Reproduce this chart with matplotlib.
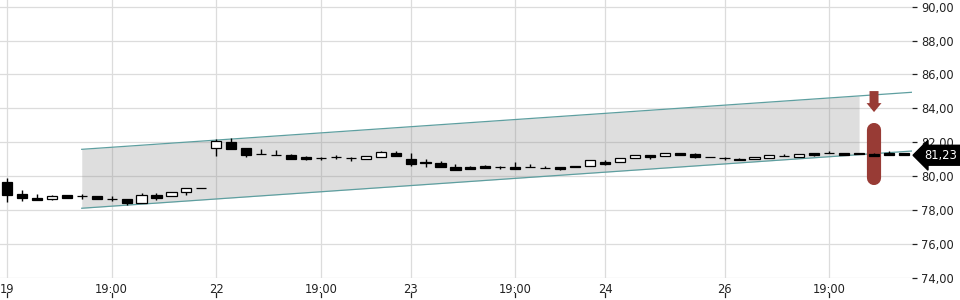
import matplotlib
matplotlib.use("Agg")
import matplotlib.pyplot as plt
import matplotlib.transforms as mtransforms

# candle OHLC (one candle per slot, index 0..60)
opens = [79.63, 78.94, 78.71, 78.67, 78.87, 78.80, 78.83, 78.65, 78.63, 78.39,
         78.90, 78.81, 79.04, 79.30, 81.64, 82.01, 81.64, 81.29, 81.23, 81.25,
         81.15, 81.05, 81.13, 81.05, 81.03, 81.15, 81.36, 80.99, 80.82, 80.77,
         80.54, 80.52, 80.60, 80.52, 80.52, 80.52, 80.46, 80.52, 80.60, 80.60,
         80.83, 80.81, 81.05, 81.23, 81.17, 81.36, 81.30, 81.13, 81.05, 81.01,
         80.99, 81.05, 81.17, 81.11, 81.35, 81.35, 81.36, 81.36, 81.30, 81.36,
         81.36]
closes = [78.90, 78.69, 78.61, 78.81, 78.72, 78.81, 78.67, 78.65, 78.39, 78.87,
          78.72, 79.06, 79.28, 79.30, 82.05, 81.60, 81.23, 81.29, 81.23, 81.03,
          81.03, 81.05, 81.13, 81.05, 81.17, 81.40, 81.19, 80.73, 80.77, 80.56,
          80.38, 80.44, 80.50, 80.52, 80.44, 80.52, 80.46, 80.44, 80.52, 80.93,
          80.73, 81.05, 81.25, 81.15, 81.36, 81.26, 81.11, 81.13, 81.05, 80.93,
          81.11, 81.23, 81.17, 81.29, 81.26, 81.35, 81.26, 81.29, 81.20, 81.26,
          81.23]
highs = [79.87, 79.16, 78.94, 78.89, 78.87, 78.93, 78.85, 78.81, 78.63, 79.00,
         78.98, 79.06, 79.28, 79.30, 82.19, 82.25, 81.64, 81.58, 81.52, 81.30,
         81.20, 81.15, 81.25, 81.15, 81.17, 81.46, 81.46, 81.35, 80.99, 80.87,
         80.71, 80.58, 80.67, 80.61, 80.82, 80.71, 80.60, 80.52, 80.60, 80.93,
         80.95, 81.05, 81.25, 81.23, 81.36, 81.36, 81.35, 81.13, 81.15, 81.05,
         81.11, 81.23, 81.31, 81.29, 81.35, 81.48, 81.36, 81.36, 81.36, 81.48,
         81.36]
lows = [78.49, 78.55, 78.61, 78.61, 78.69, 78.65, 78.63, 78.51, 78.31, 78.39,
        78.61, 78.81, 78.90, 79.30, 81.20, 81.60, 81.15, 81.29, 81.23, 81.03,
        80.97, 80.95, 81.03, 80.91, 81.03, 81.15, 81.19, 80.61, 80.56, 80.56,
        80.38, 80.44, 80.50, 80.42, 80.40, 80.52, 80.46, 80.38, 80.52, 80.60,
        80.64, 80.81, 81.05, 81.03, 81.17, 81.26, 81.05, 81.13, 80.93, 80.93,
        80.99, 81.05, 81.17, 81.11, 81.20, 81.35, 81.26, 81.29, 81.20, 81.26,
        81.23]

tick_pos = [0, 7, 14, 21, 27, 34, 40, 48, 55]
tick_labels = ["19", "19:00", "22", "19:00", "23", "19:00", "24", "26", "19:00"]

# trend channel: start/end index and upper/lower levels
chan_x = [5, 60.54]
chan_upper = [81.58, 84.95]
chan_lower = [78.10, 81.48]
chan_fill_end = 57

# signal marker
sig_idx = 58
sig_range = [79.89, 82.72]
sig_arrow = [85.02, 83.78]
last_price = 81.23

fig = plt.figure(figsize=(9.6, 3.0), dpi=100)
ax = fig.add_axes([0, 22 / 300, 912 / 960, 278 / 300])

ax.set_xlim(-0.468, 60.54)
ax.set_ylim(73.98, 90.40)

# channel
slope_u = (chan_upper[1] - chan_upper[0]) / (chan_x[1] - chan_x[0])
slope_l = (chan_lower[1] - chan_lower[0]) / (chan_x[1] - chan_x[0])
fx = [chan_x[0], chan_fill_end]
fu = [chan_upper[0], chan_upper[0] + slope_u * (chan_fill_end - chan_x[0])]
fl = [chan_lower[0], chan_lower[0] + slope_l * (chan_fill_end - chan_x[0])]
ax.fill_between(fx, fl, fu, color="#808080", alpha=0.26, lw=0, zorder=2)
ax.plot(chan_x, chan_upper, color="#5e9fa0", lw=0.9, zorder=3)
ax.plot(chan_x, chan_lower, color="#5e9fa0", lw=0.9, zorder=3)

# signal marker (behind candles)
ax.plot([sig_idx, sig_idx], sig_range, color="#983b35", lw=10.2,
        solid_capstyle="round", zorder=4)
ax.arrow(sig_idx, sig_arrow[0], 0, sig_arrow[1] - sig_arrow[0], width=0.6,
         head_width=1.0, head_length=0.53, length_includes_head=True,
         color="#983b35", lw=0, zorder=4)

# candles
xs = list(range(len(opens)))
ax.vlines(xs, lows, highs, color="black", lw=1.0, zorder=5)
bottoms = [min(o, c) for o, c in zip(opens, closes)]
heights = [abs(c - o) for o, c in zip(opens, closes)]
faces = ["white" if c > o else "black" for o, c in zip(opens, closes)]
ax.bar(xs, heights, bottom=bottoms, width=0.68, color=faces,
       edgecolor="black", linewidth=0.9, zorder=6)

# axes styling
for s in ax.spines.values():
    s.set_visible(False)
ax.yaxis.tick_right()
ax.set_yticks([74, 76, 78, 80, 82, 84, 86, 88, 90])
ax.set_yticklabels([f"{v:.2f}".replace(".", ",") for v in ax.get_yticks()])
ax.tick_params(axis="y", length=3.6, width=0.9, pad=3.2, colors="#222222",
               labelsize=8.3)
ax.set_xticks(tick_pos)
ax.set_xticklabels(tick_labels)
ax.tick_params(axis="x", length=0, pad=3.3, colors="#222222", labelsize=8.3)
ax.grid(True, color="#dcdcdc", lw=0.9, zorder=0)
ax.set_axisbelow(True)

# small marks under x labels
trans = mtransforms.blended_transform_factory(ax.transData, ax.transAxes)
for t in tick_pos:
    ax.plot([t, t], [-0.055, -0.068], color="#222222", lw=0.9,
            transform=trans, clip_on=False)

# last price tag
trans_y = mtransforms.blended_transform_factory(ax.transAxes, ax.transData)
ax.text(1.0 + 12 / 912, last_price, f"{last_price:.2f}".replace(".", ","),
        transform=trans_y, ha="left", va="center", color="white", fontsize=8.3,
        bbox=dict(boxstyle="larrow,pad=0.3", fc="black", ec="black"),
        clip_on=False, zorder=10)

fig.savefig("out.png", dpi=100)
